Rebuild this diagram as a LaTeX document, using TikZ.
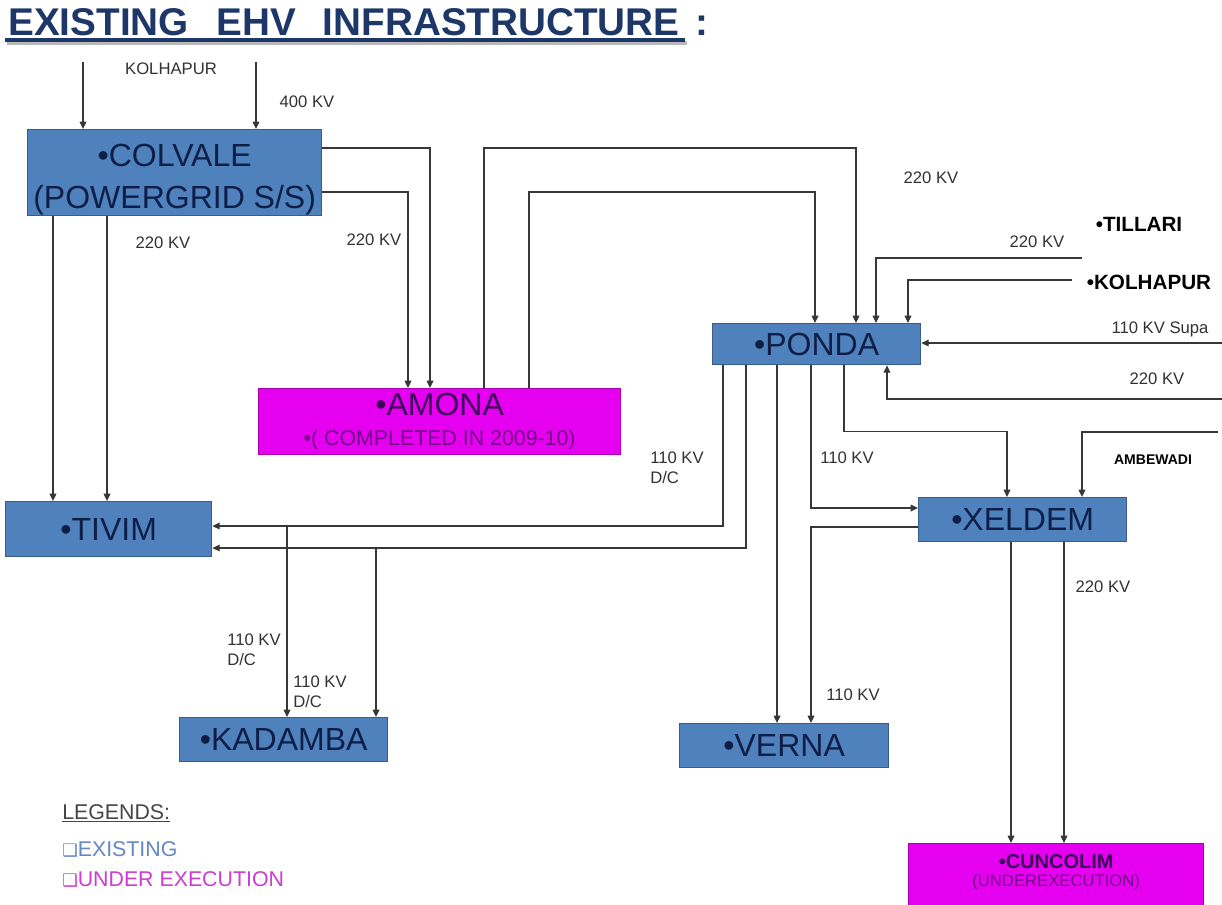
\documentclass[tikz,border=0pt]{standalone}
\usepackage{fontspec}
\setmainfont{Liberation Sans}
\newfontfamily\symfont{DejaVu Sans}
\usetikzlibrary{arrows.meta}
\definecolor{boxblue}{RGB}{79,129,189}
\definecolor{boxblueline}{RGB}{56,93,138}
\definecolor{boxtext}{RGB}{15,30,70}
\definecolor{magfill}{RGB}{230,0,240}
\definecolor{magline}{RGB}{170,0,180}
\definecolor{magtext}{RGB}{60,0,90}
\definecolor{magtexttwo}{RGB}{115,0,135}
\definecolor{titleblue}{RGB}{30,55,105}
\definecolor{lblcol}{RGB}{50,50,50}
\definecolor{wirecol}{RGB}{55,55,55}
\definecolor{leggray}{RGB}{70,70,70}
\definecolor{legblue}{RGB}{100,135,200}
\definecolor{legmag}{RGB}{205,60,210}
\begin{document}
\begin{tikzpicture}[x=0.75pt,y=-0.75pt,
  stationbox/.style={draw=boxblueline,fill=boxblue,line width=1pt,text=boxtext,inner sep=0pt,anchor=north west,align=center,font=\fontsize{24}{31.5}\selectfont},
  newbox/.style={stationbox,draw=magline,fill=magfill,text=magtext},
  feeder/.style={draw=wirecol,line width=1pt,-{Triangle[length=5.5pt,width=5pt]}},
  kv/.style={text=lblcol,inner sep=0pt,font=\fontsize{12.5}{15}\selectfont,align=left},
  srcname/.style={text=black,inner sep=0pt,font=\bfseries\fontsize{15.5}{18}\selectfont},
  legend/.style={anchor=west,inner sep=0pt,font=\fontsize{16}{18}\selectfont}
]
\clip (0,0) rectangle (1222,904);
\fill[white] (0,0) rectangle (1222,904);

% title
\node[anchor=base west,inner sep=0pt,text=titleblue,font=\bfseries\fontsize{29}{32}\selectfont] (title) at (8,35.5)
  {EXISTING\hspace{21pt}EHV\hspace{20pt}INFRASTRUCTURE\hspace{12pt}:};
\draw[gray!55,line width=2.5pt] (7,43) -- (687,43);
\draw[titleblue,line width=3pt] (5,40) -- (685,40);

% stations
\node[stationbox,minimum width=220.5pt,minimum height=64.5pt] (colvale) at (27,129) {\rule{0pt}{27pt}•COLVALE\\(POWERGRID S/S)};
\node[stationbox,minimum width=154.5pt,minimum height=41.25pt] (tivim) at (5,501) {•TIVIM};
\node[newbox,minimum width=271.5pt,minimum height=49.5pt,font=\fontsize{16}{23}\selectfont] (amona) at (258,388)
  {{\fontsize{24}{23}\selectfont •AMONA}\\{\color{magtexttwo}•( COMPLETED IN 2009-10)}};
\node[stationbox,minimum width=156pt,minimum height=30.75pt] (ponda) at (712,323) {•PONDA};
\node[stationbox,minimum width=156pt,minimum height=33pt] (xeldem) at (918,497) {•XELDEM};
\node[stationbox,minimum width=156pt,minimum height=33pt] (kadamba) at (179,717) {•KADAMBA};
\node[stationbox,minimum width=156.75pt,minimum height=33pt] (verna) at (679,723) {•VERNA};
\node[newbox,minimum width=221.25pt,inner xsep=0pt,inner ysep=8.25pt,text depth=40pt,font=\fontsize{12.5}{13.5}\selectfont] (cuncolim) at (908,843)
  {{\bfseries\fontsize{15}{13.5}\selectfont •CUNCOLIM}\\{\color{magtexttwo}(UNDEREXECUTION)}};

% free ends
\coordinate (kin1) at (83,62);
\coordinate (kin2) at (256,62);
\coordinate (tilend) at (1082,258);
\coordinate (kolend) at (1072,280);
\coordinate (supaend) at (1222,343);
\coordinate (psend) at (1222,399);
\coordinate (ambend) at (1218,432);
\coordinate (tapa) at (287,526);
\coordinate (tapb) at (376,548);

% connectors
\draw[feeder] (kin1) -- (kin1 |- colvale.north);
\draw[feeder] (kin2) -- (kin2 |- colvale.north);
\draw[feeder] (colvale.south -| 53,0) -- (tivim.north -| 53,0);
\draw[feeder] (colvale.south -| 107,0) -- (tivim.north -| 107,0);
\draw[feeder] (colvale.east |- 0,148) -| (amona.north -| 430,0);
\draw[feeder] (colvale.east |- 0,192) -| (amona.north -| 408,0);
\draw[feeder] (amona.north -| 484,0) -- ++(0,-240) -| (ponda.north -| 856,0);
\draw[feeder] (amona.north -| 529,0) -- ++(0,-196) -| (ponda.north -| 815,0);
\draw[feeder] (tilend) -| (ponda.north -| 876,0);
\draw[feeder] (kolend) -| (ponda.north -| 908,0);
\draw[feeder] (supaend) -- (ponda.east |- supaend);
\draw[feeder] (psend) -| (ponda.south -| 887,0);
\draw[feeder] (ponda.south -| 723,0) |- (tivim.east |- tapa);
\draw[feeder] (ponda.south -| 746,0) |- (tivim.east |- tapb);
\draw[feeder] (tapa) -- (kadamba.north -| tapa);
\draw[feeder] (tapb) -- (kadamba.north -| tapb);
\draw[feeder] (ponda.south -| 777,0) -- (verna.north -| 777,0);
\draw[feeder] (ponda.south -| 811,0) |- (xeldem.west |- 0,508);
\draw[feeder] (ponda.south -| 844,0) -- ++(0,66) -| (xeldem.north -| 1007,0);
\draw[feeder] (ambend) -| (xeldem.north -| 1082,0);
\draw[feeder] (xeldem.west |- 0,527) -| (verna.north -| 811,0);
\draw[feeder] (xeldem.south -| 1011,0) -- (cuncolim.north -| 1011,0);
\draw[feeder] (xeldem.south -| 1064,0) -- (cuncolim.north -| 1064,0);

% labels
\node[kv] (lkol) at (171,69) {KOLHAPUR};
\node[kv] (l400) at (307,102) {400 KV};
\node[kv] (lct) at (163,243) {220 KV};
\node[kv] (lca) at (374,240) {220 KV};
\node[kv] (ltop) at (931,178) {220 KV};
\node[srcname] (tillari) at (1139,224) {•TILLARI};
\node[kv] (ltil) at (1037,242) {220 KV};
\node[srcname] (kolhapur) at (1149,282) {•KOLHAPUR};
\node[kv] (lsupa) at (1160,329) {110 KV Supa};
\node[kv] (lps) at (1157,379) {220 KV};
\node[text=black,inner sep=0pt,font=\bfseries\fontsize{10.5}{12}\selectfont] (ambewadi) at (1153,460) {AMBEWADI};
\node[kv,anchor=west] (lpt) at (650,468) {110 KV\\D/C};
\node[kv] (lpx) at (847,458) {110 KV};
\node[kv,anchor=west] (lka) at (227,650) {110 KV\\D/C};
\node[kv,anchor=west] (lkb) at (293,692) {110 KV\\D/C};
\node[kv] (lver) at (853,695) {110 KV};
\node[kv] (lcun) at (1103,587) {220 KV};

% legend
\node[legend,text=leggray] (legtitle) at (62,813) {\underline{LEGENDS:}};
\node[legend,text=legblue] (legexist) at (62,849) {{\symfont\fontsize{13}{13}\selectfont ❑}EXISTING};
\node[legend,text=legmag] (legunder) at (62,879) {{\symfont\fontsize{13}{13}\selectfont ❑}UNDER EXECUTION};
\end{tikzpicture}
\end{document}
